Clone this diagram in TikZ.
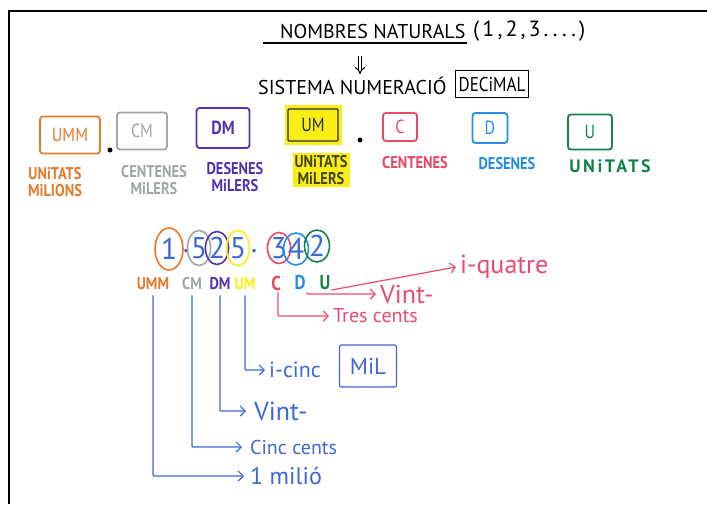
\documentclass[tikz,border=0pt]{standalone}
\usepackage{fontspec}
\usetikzlibrary{arrows.meta,shapes.geometric}
\newfontfamily\hand{PT Sans}
\newfontfamily\handn{PT Sans}[FakeStretch=0.85]
\newfontfamily\handw{PT Sans}[LetterSpace=14]
\newcommand\hsz[1]{\fontsize{#1}{#1}\selectfont}
\definecolor{mkorange}{RGB}{228,122,44}
\definecolor{mkgrey}{RGB}{160,166,166}
\definecolor{mkpurple}{RGB}{84,52,172}
\definecolor{mkyellow}{RGB}{250,238,20}
\definecolor{mknavy}{RGB}{40,44,70}
\definecolor{mkred}{RGB}{232,72,104}
\definecolor{mkblue}{RGB}{38,140,230}
\definecolor{mkgreen}{RGB}{20,130,72}
\definecolor{penblue}{RGB}{62,104,214}
\definecolor{penpink}{RGB}{236,74,112}
\definecolor{mkolive}{RGB}{70,66,30}
\tikzset{
  marker/.style={font=\hand},
  placebox/.style={draw, line width=1.8pt, rounded corners=3pt, inner sep=0pt, font=\handn\hsz{19}},
  placelabel/.style={font=\handn\bfseries\hsz{17}\linespread{1.05}\selectfont, align=center, inner sep=1pt},
  digit/.style={ellipse, draw, line width=1.6pt, inner sep=0pt, text=penblue, font=\hand\hsz{30}},
  short/.style={font=\handn\bfseries\hsz{17}, inner sep=1pt},
  branch/.style={line width=1.2pt, -{Straight Barb[length=5pt,width=10pt]}, rounded corners=1pt},
  says/.style={font=\hand\hsz{20}, anchor=west, inner sep=4pt},
}
\begin{document}
\begin{tikzpicture}[x=1pt,y=-1pt]
\useasboundingbox (0,0) rectangle (707,504);
\fill[white] (0,0) rectangle (707,504);
% board frame
\draw[line width=2.2pt] (9,504) -- (9,11) -- (707,11);

% heading
\node[marker, font=\hand\hsz{20}, anchor=west, inner sep=0pt] (title) at (280,31) {NOMBRES NATURALS};
\node[marker, font=\handw\hsz{22}, anchor=west, inner sep=0pt] (nums) at (473,31) {(1,2,3....)};
\draw[line width=1.3pt] (263,43) -- (467,43);
\coordinate (dtop) at (360,56);
\coordinate (dbot) at (360,74);
\draw[line width=1pt, double, double distance=2.5pt, -{Implies}] (dtop) -- (dbot);
\node[marker, font=\hand\hsz{20}, anchor=west, inner sep=0pt] (sist) at (258,86) {SISTEMA NUMERACIÓ};
\node[draw, line width=1.4pt, minimum width=73pt, minimum height=27pt, inner sep=0pt, font=\handn\hsz{20}] (dec) at (492,84) {DECiMAL};

% place-value boxes
\node[placebox, draw=mkorange, text=mkorange, minimum width=60pt, minimum height=37pt] (bumm) at (70,135) {UMM};
\node[circle, fill=black, inner sep=0pt, minimum size=5pt] (dot1) at (110,150) {};
\node[placebox, draw=mkgrey, text=mkgrey, minimum width=50pt, minimum height=37pt] (bcm) at (142,131) {CM};
\node[placebox, draw=mkpurple, text=mkpurple, font=\handn\bfseries\hsz{19}, minimum width=53pt, minimum height=40pt] (bdm) at (223,128) {DM};
\node[fill=mkyellow, minimum width=57pt, minimum height=40pt, inner sep=0pt] (bumhl) at (313,125) {};
\node[placebox, rounded corners=1pt, draw=mknavy, text=mknavy, line width=1.3pt, minimum width=50pt, minimum height=32pt] (bum) at (313,125) {UM};
\node[circle, fill=black, inner sep=0pt, minimum size=5pt] (dot2) at (360,140) {};
\node[placebox, draw=mkred, text=mkred, minimum width=34pt, minimum height=28pt] (bc) at (400,127) {C};
\node[placebox, draw=mkblue, text=mkblue, minimum width=35pt, minimum height=30pt] (bd) at (490,128) {D};
\node[placebox, draw=mkgreen, text=mkgreen, minimum width=44pt, minimum height=35pt] (bu) at (590,132) {U};

% names of the places
\node[placelabel, text=mkorange] (lumm) at (55,182) {UNiTATS\\MiLIONS};
\node[placelabel, text=mkgrey] (lcm) at (154,180) {CENTENES\\MiLERS};
\node[placelabel, text=mkpurple] (ldm) at (235,177) {DESENES\\MiLERS};
\node[placelabel, text=mkolive, fill=mkyellow, inner sep=2pt] (lum) at (321,170) {UNiTATS\\MiLERS};
\node[placelabel, text=mkred] (lc) at (415,163) {CENTENES};
\node[placelabel, text=mkblue] (ld) at (507,164) {DESENES};
\node[placelabel, text=mkgreen, font=\handw\bfseries\hsz{18}] (lu) at (610,166) {UNiTATS};

% the number 1.525.342, digit by digit
\node[digit, draw=mkorange, minimum width=28pt, minimum height=42pt] (n1) at (169,249) {1};
\node[text=penblue, font=\hand\hsz{30}, inner sep=0pt] (p1) at (186,251) {.};
\node[digit, draw=mkgrey, minimum width=22pt, minimum height=35pt] (n2) at (199,248) {5};
\node[digit, draw=mkpurple, minimum width=20pt, minimum height=33pt] (n3) at (217,248) {2};
\node[digit, draw=mkyellow, minimum width=20pt, minimum height=35pt] (n4) at (238,248) {5};
\node[text=penblue, font=\hand\hsz{30}, inner sep=0pt] (p2) at (254,251) {.};
\node[digit, draw=mkred, minimum width=22pt, minimum height=31pt] (n5) at (279,248) {3};
\node[digit, draw=mkblue, minimum width=25pt, minimum height=32pt] (n6) at (296,249) {4};
\node[digit, draw=mkgreen, minimum width=25pt, minimum height=32pt] (n7) at (317,246) {2};

% place letters under the digits
\node[short, text=mkorange] (summ) at (153,284) {UMM};
\node[short, text=mkgrey] (scm) at (192,284) {CM};
\node[short, text=mkpurple] (sdm) at (220,284) {DM};
\node[short, text=mkyellow] (sum) at (245,284) {UM};
\node[short, text=mkred, font=\handn\bfseries\hsz{20}] (sc) at (276,283) {C};
\node[short, text=mkblue, font=\handn\bfseries\hsz{20}] (sd) at (300,283) {D};
\node[short, text=mkgreen, font=\handn\bfseries\hsz{20}] (su) at (325,283) {U};

% reading the lower three digits
\node[says, text=penpink, font=\hand\hsz{26}] (iquatre) at (456,267) {i-quatre};
\node[says, text=penpink, font=\hand\hsz{26}] (vintr) at (376,294) {Vint-};
\node[says, text=penpink] (tres) at (329,316) {Tres cents};
\draw[branch, penpink] ([yshift=-7pt]su.east) -- (iquatre.west);
\draw[branch, penpink] ([xshift=7pt,yshift=-1pt]sd.south) |- (vintr.west);
\draw[branch, penpink] ([xshift=2pt,yshift=-1pt]sc.south) |- (tres.west);

% reading the upper four digits
\node[says, text=penblue, font=\hand\hsz{22}] (icinc) at (265,370) {i-cinc};
\node[draw=penblue, text=penblue, line width=1.2pt, rounded corners=2pt, minimum width=57pt, minimum height=42pt, inner sep=0pt, font=\hand\hsz{23}] (mil) at (368,366) {MiL};
\node[says, text=penblue, font=\hand\hsz{26}, inner sep=8pt] (vintb) at (246,411) {Vint-};
\node[says, text=penblue, inner sep=8pt] (cinc) at (242,447) {Cinc cents};
\node[says, text=penblue, font=\hand\hsz{24}, inner sep=6pt] (milio) at (244,476) {1 milió};
\draw[branch, penblue] ([yshift=-4pt]sum.south) |- (icinc.west);
\draw[branch, penblue] ([yshift=-4pt]sdm.south) |- (vintb.west);
\draw[branch, penblue] ([yshift=-4pt]scm.south) |- (cinc.west);
\draw[branch, penblue] ([yshift=-4pt]summ.south) |- (milio.west);
\end{tikzpicture}
\end{document}
